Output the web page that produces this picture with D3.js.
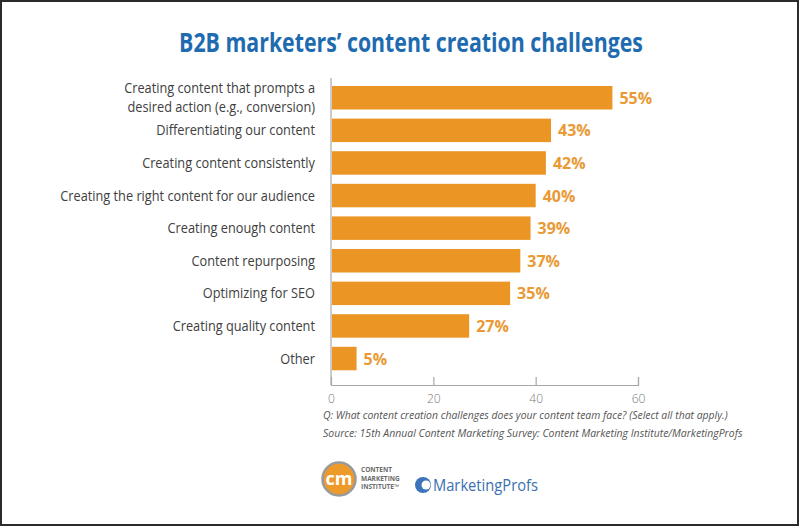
<!DOCTYPE html>
<html><head><meta charset="utf-8">
<script src="https://cdn.jsdelivr.net/npm/d3@7"></script>
<style>
html,body{margin:0;padding:0;background:#fff;}
svg{display:block;}
</style></head>
<body>
<svg id="chart" width="800" height="527"></svg>
<script>
const categories = [
  ["Creating content that prompts a", "desired action (e.g., conversion)"],
  ["Differentiating our content"],
  ["Creating content consistently"],
  ["Creating the right content for our audience"],
  ["Creating enough content"],
  ["Content repurposing"],
  ["Optimizing for SEO"],
  ["Creating quality content"],
  ["Other"]
];
const values = [55, 43, 42, 40, 39, 37, 35, 27, 5];
const tickValues = [0, 20, 40, 60];
const titleText = "B2B marketers\u2019 content creation challenges";
const noteLines = [
  "Q: What content creation challenges does your content team face? (Select all that apply.)",
  "Source: 15th Annual Content Marketing Survey: Content Marketing Institute/MarketingProfs"
];

const svg = d3.select("#chart");
const BAR = "#EA9524", LABEL = "#E99A35";
const FONT = "'Open Sans', 'Noto Sans', sans-serif";

// squeeze a text horizontally around an anchor x so it spans width w
function squeeze(sel, ax, w) {
  const cur = sel.node().getComputedTextLength();
  const s = w / cur;
  sel.attr("transform", `translate(${ax},0) scale(${s},1) translate(${-ax},0)`);
}

// border
svg.append("rect").attr("x", 1).attr("y", 1).attr("width", 797).attr("height", 524)
  .attr("fill", "#fff").attr("stroke", "#2b2b2b").attr("stroke-width", 2);

// title
const title = svg.append("text").attr("x", 411).attr("y", 52).attr("text-anchor", "middle")
  .attr("font-family", FONT).attr("font-weight", 700).attr("font-size", 27)
  .attr("fill", "#1E6BB0").text(titleText);
squeeze(title, 411, 464);

const x = d3.scaleLinear().domain([0, 60]).range([331, 638]);
const y = d3.scaleBand().domain(d3.range(values.length)).range([79.5, 376.8])
  .paddingInner(0.28).paddingOuter(0.2);

// axis
const axisG = svg.append("g").attr("transform", "translate(0,385)")
  .call(d3.axisBottom(x).tickValues(tickValues).tickSize(-8).tickPadding(9).tickFormat(d3.format("d")));
axisG.select(".domain").attr("stroke", "#a8a8a8").attr("stroke-width", 1.2);
axisG.selectAll(".tick line").attr("stroke", "#a8a8a8").attr("stroke-width", 1.2);
axisG.selectAll(".tick").filter(d => d === 0).select("line").remove();
axisG.selectAll(".tick text").attr("fill", "#7a7a7a").attr("font-family", FONT)
  .attr("font-size", 12).attr("font-weight", 300);
// vertical baseline
svg.append("line").attr("x1", x(0)).attr("x2", x(0)).attr("y1", 78).attr("y2", 385)
  .attr("stroke", "#a8a8a8").attr("stroke-width", 1.2);

// bars
svg.selectAll("rect.bar").data(values).enter().append("rect").attr("class", "bar")
  .attr("x", x(0) + 1).attr("y", (d, i) => y(i)).attr("height", y.bandwidth())
  .attr("width", d => x(d) - x(0) - 1).attr("fill", BAR);

// value labels
svg.selectAll("text.val").data(values).enter().append("text").attr("class", "val")
  .attr("x", d => x(d) + 7).attr("y", (d, i) => y(i) + y.bandwidth() / 2 + 6)
  .attr("font-family", FONT).attr("font-weight", 700).attr("font-size", 16)
  .attr("fill", LABEL).text(d => d + "%");

// category labels (one text element per line)
const catG = svg.append("g");
const lineData = [];
categories.forEach((lines, i) => {
  const cy = y(i) + y.bandwidth() / 2;
  const lh = 19;
  lines.forEach((ln, k) => {
    lineData.push({ text: ln, cat: i, y: cy + 5 + (k - (lines.length - 1) / 2) * lh });
  });
});
const catTexts = catG.selectAll("text").data(lineData).enter().append("text")
  .attr("text-anchor", "end").attr("x", 315).attr("y", d => d.y)
  .attr("font-family", FONT).attr("font-size", 14.5).attr("fill", "#404040")
  .text(d => d.text);
// horizontally squeeze category labels so the longest spans 255px
const longest = catTexts.filter(d => d.cat === 3);
const s = 255 / longest.node().getComputedTextLength();
catG.attr("transform", `translate(315,0) scale(${s},1) translate(-315,0)`);

// notes
noteLines.forEach((ln, i) => {
  const t = svg.append("text").attr("x", 323).attr("y", 419 + i * 18)
    .attr("font-family", FONT).attr("font-style", "italic").attr("font-size", 11.5)
    .attr("fill", "#555").text(ln);
  squeeze(t, 323, i === 0 ? 405 : 420);
});

// logos
const cmi = svg.append("g");
cmi.append("circle").attr("cx", 339).attr("cy", 479).attr("r", 16.5)
  .attr("fill", "#EE9A2B").attr("stroke", "#9a9a9a").attr("stroke-width", 2.5);
cmi.append("text").attr("x", 339).attr("y", 485).attr("text-anchor", "middle")
  .attr("font-family", FONT).attr("font-weight", 700).attr("font-size", 18)
  .attr("fill", "#fff").text("cm");
["CONTENT", "MARKETING", "INSTITUTE\u2122"].forEach((t, i) => {
  cmi.append("text").attr("x", 361).attr("y", 472 + i * 8.5)
    .attr("font-family", FONT).attr("font-weight", 700).attr("font-size", 6.5)
    .attr("fill", "#6b6b6b").text(t);
});
const mp = svg.append("g");
mp.append("circle").attr("cx", 423).attr("cy", 485).attr("r", 8)
  .attr("fill", "#3B74B8");
mp.append("circle").attr("cx", 426).attr("cy", 485).attr("r", 4.5)
  .attr("fill", "#fff");
const mpt = mp.append("text").attr("x", 433).attr("y", 491)
  .attr("font-family", FONT).attr("font-size", 16).attr("fill", "#3B6FB0")
  .text("MarketingProfs");
squeeze(mpt, 433, 105);
</script>
</body></html>
